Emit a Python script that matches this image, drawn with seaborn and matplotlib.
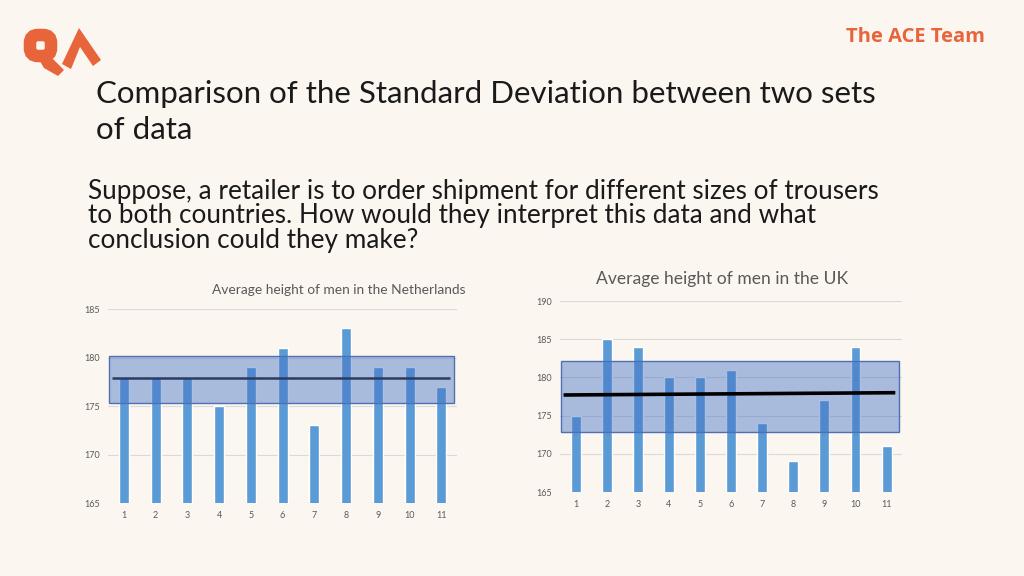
import matplotlib
matplotlib.use("Agg")
import matplotlib.pyplot as plt
import matplotlib.patches as mpatches
import pandas as pd
import seaborn as sns

# data
positions = [str(i) for i in range(1, 12)]
nl_heights = [178, 178, 178, 175, 179, 181, 173, 183, 179, 179, 177]
uk_heights = [175, 185, 184, 180, 180, 181, 174, 169, 177, 184, 171]
nl_band = (175.3, 180.2)   # shaded mean +/- sd box
uk_band = (172.8, 182.2)
nl_mean = (177.9, 177.9)   # mean line, left end / right end
uk_mean = (177.7, 178.0)
nl_ticks = [165, 170, 175, 180, 185]
uk_ticks = [165, 170, 175, 180, 185, 190]

bg = "#FCF6F1"
orange = "#E8643A"
bar_blue = "#5B9BD5"
band_fill = (0.27, 0.45, 0.77, 0.45)
band_edge = "#4F6FB3"
grey = "#595959"

sns.set_theme(style="white")
plt.rcParams["font.family"] = ["Lato", "DejaVu Sans"]

fig = plt.figure(figsize=(10.24, 5.76), dpi=100)
fig.patch.set_facecolor(bg)

# overlay in pixel coordinates for slide text and logo
ov = fig.add_axes([0, 0, 1, 1])
ov.set_xlim(0, 1024)
ov.set_ylim(576, 0)
ov.axis("off")
ov.patch.set_alpha(0)

# logo: rough Q and A shapes
ov.add_patch(mpatches.FancyBboxPatch((30, 35), 21, 21, boxstyle="round,pad=0,rounding_size=8",
                                     fill=False, ec=orange, lw=9))
ov.add_patch(mpatches.Polygon([(38, 58), (52, 58), (64, 70), (58, 76), (44, 68)], color=orange, lw=0))
ov.add_patch(mpatches.Polygon([(62, 64), (79, 28), (101, 60), (93, 66), (80, 47), (71, 69)],
                              color=orange, lw=0))

ov.text(915, 37, "The ACE Team", color=orange, fontsize=14.5, fontweight="bold",
        ha="center", va="center", family=["Open Sans", "DejaVu Sans"])

ov.text(96, 112, "Comparison of the Standard Deviation between two sets\nof data",
        fontsize=22.5, color="#1a1a1a", ha="left", va="center", linespacing=1.32)
ov.text(88, 216, "Suppose, a retailer is to order shipment for different sizes of trousers\n"
        "to both countries. How would they interpret this data and what\n"
        "conclusion could they make?",
        fontsize=18.8, color="#1a1a1a", ha="left", va="center", linespacing=0.97)


def draw_chart(rect, values, band, mean, ticks, title, title_size, title_x, title_y,
               line_col, line_w, line_z):
    ax = fig.add_axes(rect)
    ax.set_facecolor(bg)
    df = pd.DataFrame({"pos": positions, "height": values})
    sns.barplot(data=df, x="pos", y="height", color=bar_blue, saturation=1,
                width=0.32, ax=ax, zorder=2)
    ax.set_xlim(-0.5, 10.5)
    ax.set_ylim(ticks[0], ticks[-1])
    ax.set_yticks(ticks)
    ax.grid(axis="y", color="#D9D9D9", lw=0.8, zorder=0)
    ax.set_axisbelow(True)
    for s in ax.spines.values():
        s.set_visible(False)
    ax.tick_params(axis="both", length=0, labelsize=6.5, labelcolor=grey, pad=6)
    ax.set_xlabel("")
    ax.set_ylabel("")
    # mean line and sd band
    tr = ax.get_yaxis_transform()
    ax.plot([0.01, 0.98], list(mean), color=line_col, lw=line_w, transform=tr, zorder=line_z,
            solid_capstyle="butt")
    ax.axhspan(band[0], band[1], xmin=0.004, xmax=0.99, facecolor=band_fill,
               edgecolor=band_edge, lw=1, zorder=4)
    ax.set_title(title, fontsize=title_size, color=grey, x=title_x, y=title_y)
    return ax


draw_chart([0.1055, 0.1267, 0.341, 0.3368], nl_heights, nl_band, nl_mean, nl_ticks,
           "Average height of men in the Netherlands", 9.9, 0.66, 1.035, "#111111", 1.8, 3)
draw_chart([0.547, 0.1458, 0.334, 0.3316], uk_heights, uk_band, uk_mean, uk_ticks,
           "Average height of men in the UK", 12.6, 0.474, 1.045, "black", 2.6, 5)

fig.savefig("out.png", dpi=100, facecolor=bg)
